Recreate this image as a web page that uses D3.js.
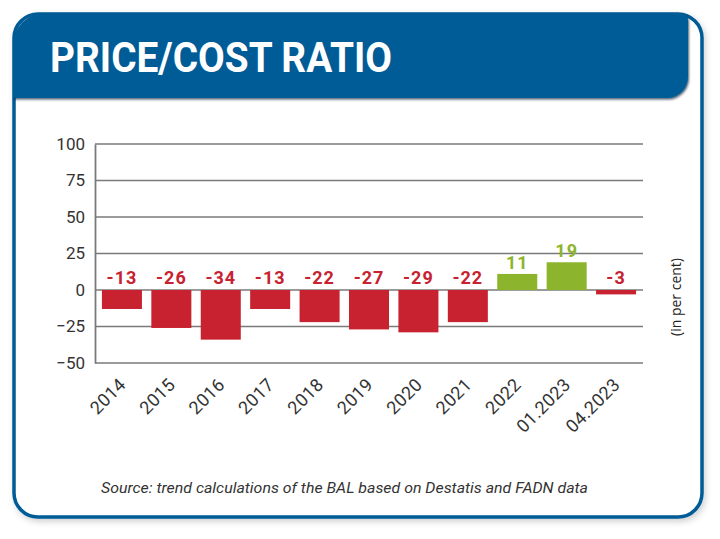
<!DOCTYPE html>
<html><head><meta charset="utf-8">
<script src="https://cdn.jsdelivr.net/npm/d3@7"></script>
<style>body{margin:0;background:#fff;}svg{display:block;}</style>
</head><body>
<svg id="c" width="720" height="539"></svg>
<script>
const categories = ["2014","2015","2016","2017","2018","2019","2020","2021","2022","01.2023","04.2023"];
const values = [-13,-26,-34,-13,-22,-27,-29,-22,11,19,-3];
const yTicks = [100,75,50,25,0,-25,-50];
const title = "PRICE/COST RATIO";
const unitLabel = "(in per cent)";
const source = "Source: trend calculations of the BAL based on Destatis and FADN data";

const svg = d3.select("#c");
const BLUE = "#005b97", RED = "#c82130", GREEN = "#8cb42d";

const defs = svg.append("defs");
const f = defs.append("filter").attr("id","sh").attr("x","-10%").attr("y","-10%").attr("width","120%").attr("height","120%");
f.append("feDropShadow").attr("dx",2).attr("dy",3).attr("stdDeviation",3).attr("flood-color","#000").attr("flood-opacity",0.18);
const f2 = defs.append("filter").attr("id","hs").attr("x","-10%").attr("y","-10%").attr("width","120%").attr("height","130%");
f2.append("feDropShadow").attr("dx",1).attr("dy",1.5).attr("stdDeviation",1).attr("flood-color","#001a33").attr("flood-opacity",0.7);

// card
svg.append("rect").attr("x",14).attr("y",14).attr("width",688).attr("height",503)
  .attr("rx",24).attr("fill","#fff").attr("stroke",BLUE).attr("stroke-width",3.5).attr("filter","url(#sh)");
// header
svg.append("path").attr("d","M13,98 L13,45 A32,32 0 0 1 45,13 L680,13 Q688,13 688,21 L688,77 A21,21 0 0 1 667,98 Z")
  .attr("fill",BLUE).attr("filter","url(#hs)");
svg.append("text").attr("x",50).attr("y",72).attr("fill","#fff")
  .attr("font-family","Roboto, 'DejaVu Sans'").attr("font-weight","bold").attr("font-size",42)
  .attr("textLength",342).attr("lengthAdjust","spacingAndGlyphs").text(title);

// scales
const x = d3.scaleBand().domain(categories).range([95,643]).paddingInner(0.19).paddingOuter(0.14);
const y = d3.scaleLinear().domain([-50,100]).range([363,144]);

// grid
svg.append("g").selectAll("line").data(yTicks).join("line")
  .attr("x1",95).attr("x2",643).attr("y1",d=>y(d)).attr("y2",d=>y(d))
  .attr("stroke","#7a7a7a").attr("stroke-width",1.6);

// y axis
const yAxis = d3.axisLeft(y).tickValues(yTicks).tickSize(0).tickPadding(10);
const gy = svg.append("g").attr("transform","translate(95,0)").call(yAxis);
gy.select(".domain").attr("stroke","#7a7a7a").attr("stroke-width",1.8);
gy.selectAll("text").attr("font-family","Roboto, 'DejaVu Sans'").attr("font-size",17).attr("fill","#333");

// bars
svg.append("g").selectAll("rect").data(values).join("rect")
  .attr("x",(d,i)=>x(categories[i])).attr("width",x.bandwidth())
  .attr("y",d=>y(Math.max(0,d))).attr("height",d=>Math.abs(y(d)-y(0)))
  .attr("fill",d=>d>=0?GREEN:RED);

// value labels
svg.append("g").selectAll("text").data(values).join("text")
  .attr("x",(d,i)=>x(categories[i])+x.bandwidth()/2)
  .attr("y",d=>d>=0? y(d)-5 : y(0)-6)
  .attr("text-anchor","middle").attr("font-family","Roboto, 'DejaVu Sans'")
  .attr("font-weight","bold").attr("font-size",18).attr("letter-spacing",1)
  .attr("fill",d=>d>=0?GREEN:RED).text(d=>d);

// x axis labels
const xAxis = d3.axisBottom(x).tickSize(0).tickPadding(0);
const gx = svg.append("g").attr("transform","translate(0,363)").call(xAxis);
gx.select(".domain").remove();
gx.selectAll("text").attr("font-family","Roboto, 'DejaVu Sans'").attr("font-size",18).attr("fill","#333")
  .attr("letter-spacing",0.3)
  .attr("text-anchor","end").attr("dy",0).attr("y",0)
  .attr("transform","translate(5,23) rotate(-45)");

// unit label
svg.append("text").attr("transform","translate(681,297) rotate(-90)").attr("text-anchor","middle")
  .attr("font-family","'Open Sans', 'Noto Sans'").attr("font-size",14).attr("fill","#222").text(unitLabel);

// source
svg.append("text").attr("x",101).attr("y",493).attr("font-family","Roboto, 'DejaVu Sans'")
  .attr("font-style","italic").attr("font-size",15.5).attr("fill","#333")
  .attr("textLength",487).attr("lengthAdjust","spacingAndGlyphs").text(source);
</script>
</body></html>
